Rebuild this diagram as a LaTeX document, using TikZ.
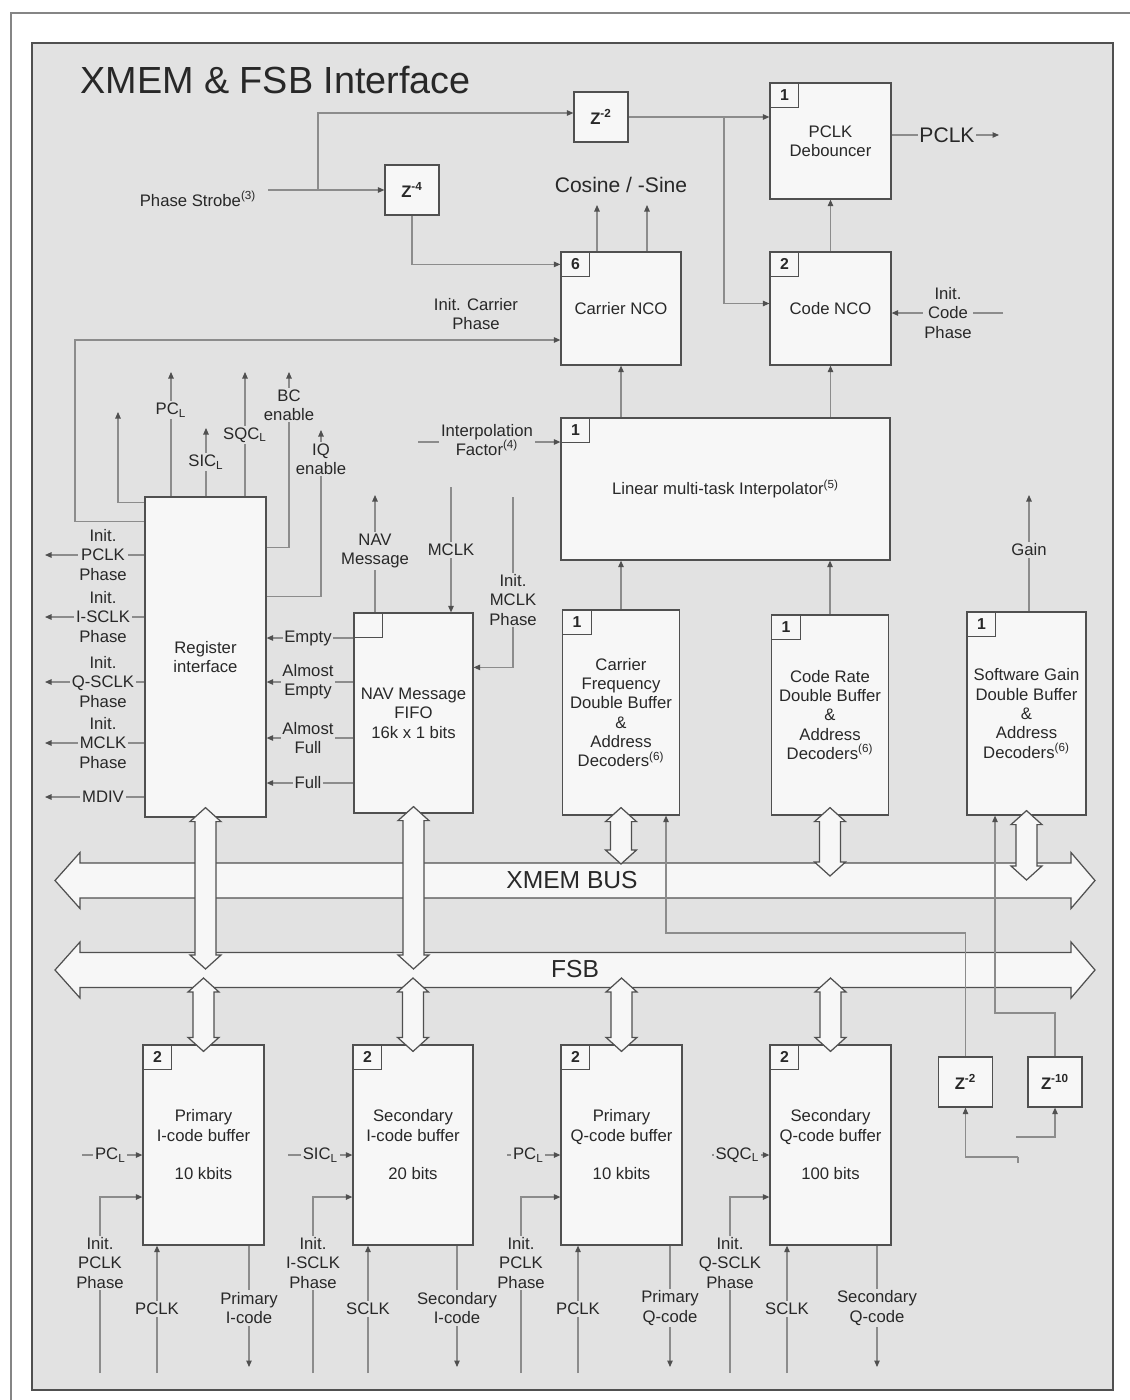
\documentclass[tikz,border=0pt]{standalone}
\usepackage{fontspec}
\setmainfont{Liberation Sans}
\usetikzlibrary{arrows.meta, positioning, calc}

\definecolor{panel}{RGB}{226,226,226}
\definecolor{boxfill}{RGB}{247,247,247}
\definecolor{boxline}{RGB}{80,80,80}
\definecolor{wirec}{RGB}{140,140,140}
\definecolor{ink}{RGB}{40,40,40}

\pgfdeclarelayer{back}
\pgfdeclarelayer{bus}
\pgfdeclarelayer{wires}
\pgfsetlayers{back,bus,wires,main}

% wide horizontal bus, #1 = centre y
\newcommand{\hbus}[1]{%
  \draw[busline] (55,#1) -- (80,#1-28) -- (80,#1-17.5) -- (1071,#1-17.5) -- (1071,#1-28)
    -- (1095,#1) -- (1071,#1+28) -- (1071,#1+17.5) -- (80,#1+17.5) -- (80,#1+28) -- cycle;}
% vertical double arrow from #1 (top tip) down to #2 (bottom tip)
\newcommand{\vbus}[2]{%
  \draw[busline] let \p1=#1, \p2=#2 in
    (\x1,\y1) -- ++(3.1mm,-2.8mm) -- ++(-1mm,0) -- (\x1+2.1mm,\y2+2.8mm) -- ++(1mm,0)
    -- (\x1,\y2) -- ++(-3.1mm,2.8mm) -- ++(1mm,0) -- (\x1-2.1mm,\y1-2.8mm) -- ++(-1mm,0) -- cycle;}
% small number square in the top left corner of a block
\newcommand{\tagbox}[2]{\node[tagbox, anchor=north west] (#1-tag) at (#1.north west) {#2};}

\begin{document}
\begin{tikzpicture}[x=0.2mm, y=-0.2mm,
		font=\fontsize{9.5}{11}\selectfont, text=ink,
		block/.style={rectangle, draw=boxline, fill=boxfill, line width=0.7pt, align=center, inner sep=1pt},
		zbox/.style={block, minimum width=10.8mm, minimum height=10mm, font=\bfseries\fontsize{9.5}{11}\selectfont},
		tagbox/.style={rectangle, draw=boxline, line width=0.6pt, minimum width=5.8mm, minimum height=5mm, inner sep=0pt, font=\bfseries\fontsize{9}{10}\selectfont},
		lbl/.style={fill=panel, inner sep=1pt, align=center},
		wireline/.style={draw=wirec, line width=0.6pt},
		arr/.style={wireline, -{Triangle[length=1.3mm, width=1.1mm, color=boxline]}},
		busline/.style={draw=boxline, fill=boxfill, line width=0.7pt}
		]
	\useasboundingbox (0,0) rectangle (1130,1400);

	\begin{pgfonlayer}{back}
		\fill[white] (0,0) rectangle (1130,1400);
		\draw[boxline!70, line width=0.6pt] (11,1400) -- (11,13) -- (1130,13);
		\draw[fill=panel, draw=boxline, line width=0.7pt] (32,43) rectangle (1113,1390);
	\end{pgfonlayer}

	\node[anchor=west, inner sep=0pt, font=\fontsize{21.5}{24}\selectfont] (title) at (80,80) {XMEM \& FSB Interface};

	% blocks
	\node[zbox] (zA) at (601,117) {Z\textsuperscript{-2}};
	\node[zbox] (zB) at (412,190) {Z\textsuperscript{-4}};
	\node[zbox] (zC) at (965.5,1082) {Z\textsuperscript{-2}};
	\node[zbox] (zD) at (1055,1082) {Z\textsuperscript{-10}};
	\node[block, minimum width=24.2mm, minimum height=23.2mm] (deb) at (830.5,141) {PCLK\\Debouncer};
	\node[block, minimum width=24mm, minimum height=22.6mm] (cno) at (621,308.5) {Carrier NCO};
	\node[block, minimum width=24.2mm, minimum height=22.6mm] (cdn) at (830.5,308.5) {Code NCO};
	\node[block, minimum width=65.8mm, minimum height=28.4mm] (lmi) at (725.5,489) {Linear multi-task Interpolator\textsuperscript{(5)}};
	\node[block, minimum width=24.2mm, minimum height=64mm] (reg) at (205.5,657) {Register\\interface};
	\node[block, minimum width=23.8mm, minimum height=40mm] (fifo) at (413.5,713) {NAV Message\\FIFO\\16k x 1 bits};
	\node[block, minimum width=23.4mm, minimum height=41mm] (cfb) at (621,712.5) {Carrier\\Frequency\\Double Buffer\\\&\\Address\\Decoders\textsuperscript{(6)}};
	\node[block, minimum width=23.4mm, minimum height=40mm] (crb) at (830,715) {Code Rate\\Double Buffer\\\&\\Address\\Decoders\textsuperscript{(6)}};
	\node[block, minimum width=23.8mm, minimum height=40.6mm] (sgb) at (1026.5,713.5) {Software Gain\\Double Buffer\\\&\\Address\\Decoders\textsuperscript{(6)}};
	\node[block, minimum width=24.2mm, minimum height=40mm] (pib) at (203.5,1145) {Primary\\I-code buffer\\[11pt]10 kbits};
	\node[block, minimum width=24mm, minimum height=40mm] (sib) at (413,1145) {Secondary\\I-code buffer\\[11pt]20 bits};
	\node[block, minimum width=24.2mm, minimum height=40mm] (pqb) at (621.5,1145) {Primary\\Q-code buffer\\[11pt]10 kbits};
	\node[block, minimum width=24.2mm, minimum height=40mm] (sqb) at (830.5,1145) {Secondary\\Q-code buffer\\[11pt]100 bits};

	\foreach \b/\n in {deb/1, cdn/2, cno/6, lmi/1, cfb/1, crb/1, sgb/1, fifo/{}, pib/2, sib/2, pqb/2, sqb/2} {
		\tagbox{\b}{\n}
	}

	% labels
	\node[lbl, font=\fontsize{12}{14}\selectfont] (pclk) at (947,135) {PCLK};
	\node[font=\fontsize{12}{14}\selectfont] (cosin) at (621,185) {Cosine / -Sine};
	\node[lbl] (strobe) at (198,199) {Phase Strobe\textsuperscript{(3)}};
	\node[lbl] (icar) at (476,314) {Init. Carrier\\Phase};
	\node[lbl] (icode) at (948,313) {Init.\\Code\\Phase};
	\node[lbl] (pcl) at (171,410) {PC\textsubscript{L}};
	\node[lbl] (sqcl) at (245,435) {SQC\textsubscript{L}};
	\node[lbl] (sicl) at (206,462) {SIC\textsubscript{L}};
	\node[lbl] (bcen) at (289,405) {BC\\enable};
	\node[lbl] (iqen) at (321,459) {IQ\\enable};
	\node[lbl] (ipf) at (487,440) {Interpolation\\Factor\textsuperscript{(4)}};
	\node[lbl] (navm) at (375,551) {NAV\\Message};
	\node[lbl] (mclk) at (451,550) {MCLK};
	\node[lbl] (imp) at (513,600) {Init.\\MCLK\\Phase};
	\node[lbl] (gain) at (1029,550) {Gain};
	\node[font=\fontsize{14}{16}\selectfont] (xmem) at (572,880) {XMEM BUS};
	\node[font=\fontsize{14}{16}\selectfont] (fsb) at (575,969) {FSB};

	\foreach \n/\y/\t in {1/555/{Init.\\PCLK\\Phase}, 2/617/{Init.\\I-SCLK\\Phase}, 3/682/{Init.\\Q-SCLK\\Phase}, 4/743/{Init.\\MCLK\\Phase}, 5/797/MDIV} {
		\node[lbl] (lo\n) at (103,\y) {\t};
		\coordinate (lo\n-t) at (45,\y);
	}
	\foreach \n/\y/\t in {1/638/Empty, 2/682/{Almost\\Empty}, 3/738/{Almost\\Full}, 4/783/Full} {
		\node[lbl] (fl\n) at (308,\y) {\t};
	}

	\foreach \b/\xb/\xc/\xd/\sg/\ig/\cg/\og in {
			pib/100/157/249/PC/PCLK/PCLK/{Primary\\I-code},
			sib/313/368/457/SIC/I-SCLK/SCLK/{Secondary\\I-code},
			pqb/521/578/670/PC/PCLK/PCLK/{Primary\\Q-code},
			sqb/730/787/877/SQC/Q-SCLK/SCLK/{Secondary\\Q-code}} {
		\node[lbl] (\b-sub) at ($(\b.west)+(-32,10)$) {\sg\textsubscript{L}};
		\node[lbl] (\b-ini) at (\xb,1263) {Init.\\\ig\\Phase};
		\node[lbl] (\b-clk) at (\xc,1309) {\cg};
		\node[lbl] (\b-out) at (\xd,1308) {\og};
	}

	\begin{pgfonlayer}{bus}
		\hbus{880.5}
		\hbus{970}
	\end{pgfonlayer}

	\begin{pgfonlayer}{wires}
		% phase strobe and delays
		\coordinate (ps-s) at (268,190);
		\coordinate (ps-j) at (318,190);
		\draw[arr] (ps-s) -- (zB.west);
		\draw[arr] (ps-j) |- ($(zA.west)+(0,-4)$);
		\draw[arr] (zB.south) |- ($(cno.north west)+(0,13)$);
		\coordinate (zA-j) at (724,117);
		\draw[arr] (zA.east) -- (zA.east -| deb.west);
		\draw[arr] (zA-j) |- ($(cdn.west)+(0,-5)$);
		\draw[arr] (cdn.north) -- (deb.south);
		\coordinate (pclk-o) at (999,135);
		\draw[arr] (deb.east |- pclk-o) -- (pclk-o);
		\coordinate (icode-s) at (1003,313);
		\draw[arr] (icode-s) -- (icode-s -| cdn.east);
		\coordinate (cos-t) at (597,205);
		\coordinate (sin-t) at (647,205);
		\draw[arr] (cos-t |- cno.north) -- (cos-t);
		\draw[arr] (sin-t |- cno.north) -- (sin-t);

		% register interface
		\coordinate (icar-c) at (75,340);
		\draw[arr] ($(reg.north west)+(0,25)$) -| (icar-c) -- (icar-c -| cno.west);
		\coordinate (nc-t) at (118,412);
		\draw[arr] ($(reg.north west)+(0,6)$) -| (nc-t);
		\coordinate (pcl-t) at (171,372);
		\coordinate (sicl-t) at (206,428);
		\coordinate (sqcl-t) at (245,372);
		\foreach \c in {pcl-t, sicl-t, sqcl-t} {
			\draw[arr] (\c |- reg.north) -- (\c);
		}
		\coordinate (bc-t) at (289,372);
		\coordinate (iq-t) at (321,430);
		\draw[arr] ($(reg.north east)+(0,51)$) -| (bc-t);
		\draw[arr] ($(reg.north east)+(0,100)$) -| (iq-t);
		\foreach \n in {1,...,5} {
			\draw[arr] (reg.west |- lo\n-t) -- (lo\n-t);
		}
		\foreach \n in {1,...,4} {
			\draw[arr] (fifo.west |- fl\n) -- (reg.east |- fl\n);
		}

		% NAV FIFO
		\coordinate (nav-t) at (375,495);
		\draw[arr] (nav-t |- fifo.north) -- (nav-t);
		\coordinate (mclk-s) at (451,487);
		\draw[arr] (mclk-s) -- (mclk-s |- fifo.north);
		\coordinate (imp-s) at (513,497);
		\draw[arr] (imp-s) |- ($(fifo.north east)+(0,55)$);

		% interpolator
		\coordinate (ipf-s) at (418,442);
		\draw[arr] (ipf-s) -- (ipf-s -| lmi.west);
		\draw[arr] (cno.south |- lmi.north) -- (cno.south);
		\draw[arr] (cdn.south |- lmi.north) -- (cdn.south);
		\draw[arr] (cfb.north) -- (cfb.north |- lmi.south);
		\draw[arr] (crb.north) -- (crb.north |- lmi.south);
		\coordinate (gain-t) at (1029,495);
		\draw[arr] (gain-t |- sgb.north) -- (gain-t);

		% buffer delays
		\coordinate (fb1) at (666,933);
		\draw[arr] (zC.north) |- (fb1) -- (fb1 |- cfb.south);
		\coordinate (fb2) at (995,1013);
		\draw[arr] (zD.north) |- (fb2) -- (fb2 |- sgb.south);
		\coordinate (zc-in) at (1018,1157);
		\draw[wireline] (zc-in) -- ++(0,6);
		\draw[arr] (zc-in) -| (zC.south);
		\coordinate (zd-in) at (1016,1137);
		\draw[arr] (zd-in) -| (zD.south);

		% code buffers
		\foreach \b/\xa/\xb/\xc/\xd in {pib/82/100/157/249, sib/288/313/368/457, pqb/507/521/578/670, sqb/712/730/787/877} {
			\coordinate (\b-a) at (\xa,1155);
			\coordinate (\b-b) at (\xb,1373);
			\coordinate (\b-c) at (\xc,1373);
			\coordinate (\b-d) at (\xd,1367);
			\draw[arr] (\b-a) -- (\b-a -| \b.west);
			\draw[arr] (\b-b) |- ($(\b.west)+(0,52)$);
			\draw[arr] (\b-c) -- (\b-c |- \b.south);
			\draw[arr] (\b-d |- \b.south) -- (\b-d);
		}
	\end{pgfonlayer}

	% bus links
	\vbus{($(reg.south)+(0,-10)$)}{(fsb.center)}
	\vbus{($(fifo.south)+(0,-7)$)}{(fsb.center)}
	\vbus{($(cfb.south)+(0,-8)$)}{($(xmem.center)+(0,-16)$)}
	\vbus{($(crb.south)+(0,-8)$)}{($(xmem.center)+(0,-4)$)}
	\vbus{($(sgb.south)+(0,-5)$)}{(xmem.center)}
	\foreach \b in {pib, sib, pqb, sqb} {
		\vbus{($(\b.north |- fsb.center)+(0,9)$)}{($(\b.north)+(0,7)$)}
	}
\end{tikzpicture}
\end{document}
